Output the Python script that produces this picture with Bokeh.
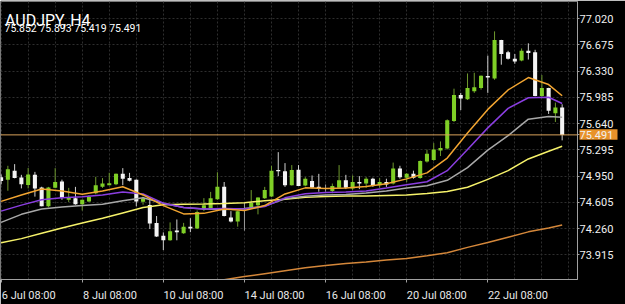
from bokeh.plotting import figure
from bokeh.models import ColumnDataSource, FixedTicker, Range1d, Span, Label, PrintfTickFormatter
from bokeh.embed import file_html
from bokeh.resources import INLINE

symbol_title = "AUDJPY, H4"
ohlc_title = "75.852 75.893 75.419 75.491"

opens = [74.936, 74.900, 75.021, 74.930, 74.832, 74.966, 74.800, 74.553, 74.795, 74.877,
         74.638, 74.660, 74.580, 74.617, 74.724, 74.810, 74.830, 74.843, 74.979, 74.923,
         74.903, 74.612, 74.570, 74.332, 74.165, 74.106, 74.235, 74.200, 74.285, 74.262,
         74.515, 74.532, 74.647, 74.808, 74.405, 74.353, 74.470, 74.540, 74.565, 74.660,
         74.680, 75.030, 75.012, 74.830, 75.034, 74.826, 74.885, 74.808, 74.790, 74.753,
         74.795, 74.894, 74.788, 74.872, 74.852, 74.915, 74.830, 74.872, 74.852, 75.051,
         74.928, 74.979, 74.923, 75.140, 75.162, 75.286, 75.311, 75.673, 76.014, 75.958,
         76.065, 76.107, 76.264, 76.231, 76.737, 76.576, 76.490, 76.468, 76.596, 76.576,
         76.001, 76.107, 75.775, 75.852]
highs = [74.970, 75.085, 75.107, 74.966, 75.056, 75.005, 74.810, 74.808, 75.054, 74.903,
         74.795, 74.808, 74.640, 74.700, 74.940, 74.923, 74.993, 74.983, 75.054, 74.992,
         74.905, 74.680, 74.638, 74.425, 74.210, 74.341, 74.380, 74.335, 74.396, 74.498,
         74.660, 74.742, 75.000, 74.872, 74.489, 74.495, 74.596, 74.766, 74.670, 74.808,
         75.085, 75.264, 75.120, 75.094, 75.094, 74.936, 74.958, 74.979, 74.839, 74.852,
         75.094, 74.966, 74.958, 74.949, 74.936, 74.928, 74.923, 74.915, 75.127, 75.085,
         74.990, 75.021, 75.155, 75.298, 75.383, 75.405, 75.695, 76.098, 76.043, 76.298,
         76.307, 76.272, 76.532, 76.851, 76.740, 76.596, 76.554, 76.627, 76.694, 76.609,
         76.277, 76.110, 75.915, 75.893]
lows = [74.840, 74.757, 74.920, 74.788, 74.788, 74.680, 74.553, 74.540, 74.790, 74.638,
        74.609, 74.574, 74.498, 74.610, 74.711, 74.795, 74.830, 74.830, 74.830, 74.880,
        74.553, 74.574, 74.255, 74.150, 73.978, 74.100, 74.106, 74.190, 74.213, 74.255,
        74.490, 74.525, 74.638, 74.420, 74.341, 74.285, 74.233, 74.532, 74.447, 74.650,
        74.675, 74.949, 74.808, 74.825, 74.820, 74.815, 74.788, 74.744, 74.744, 74.724,
        74.788, 74.779, 74.766, 74.779, 74.795, 74.808, 74.795, 74.808, 74.839, 74.915,
        74.872, 74.915, 74.915, 75.127, 75.149, 75.213, 75.300, 75.660, 75.817, 75.950,
        76.043, 76.085, 76.043, 76.215, 76.413, 76.481, 76.426, 76.458, 76.481, 75.998,
        75.990, 75.766, 75.660, 75.419]
closes = [74.885, 75.040, 74.923, 74.843, 74.970, 74.788, 74.553, 74.800, 74.872, 74.664,
          74.668, 74.580, 74.638, 74.675, 74.830, 74.852, 74.855, 74.979, 74.915, 74.890,
          74.617, 74.654, 74.326, 74.157, 74.106, 74.224, 74.213, 74.285, 74.262, 74.479,
          74.567, 74.660, 74.808, 74.425, 74.353, 74.489, 74.470, 74.596, 74.668, 74.766,
          75.021, 75.012, 74.830, 75.030, 74.821, 74.915, 74.800, 74.779, 74.790, 74.821,
          74.894, 74.795, 74.872, 74.852, 74.915, 74.821, 74.872, 74.839, 75.051, 74.936,
          74.979, 74.928, 75.149, 75.242, 75.298, 75.319, 75.682, 76.014, 75.970, 76.107,
          76.116, 76.269, 76.244, 76.739, 76.554, 76.490, 76.456, 76.596, 76.567, 76.001,
          76.107, 75.809, 75.852, 75.491]
bars = list(range(len(opens)))

tick_bars = [0, 12, 24, 36, 48, 60, 72]
tick_labels = ["6 Jul 08:00", "8 Jul 08:00", "10 Jul 08:00", "14 Jul 08:00",
               "16 Jul 08:00", "20 Jul 08:00", "22 Jul 08:00"]
price_ticks = [73.915, 74.260, 74.605, 74.950, 75.295, 75.640, 75.985, 76.330, 76.675, 77.020]
last_price = 75.491

ma_bars = [0, 3, 6, 9, 12, 15, 18, 21, 24, 27, 30, 33, 36, 39, 42, 45, 48, 51, 54, 57,
           60, 63, 66, 69, 72, 75, 78, 81, 83]
ma_orange = [74.617, 74.702, 74.779, 74.753, 74.711, 74.753, 74.810, 74.702, 74.562, 74.453,
             74.460, 74.517, 74.498, 74.562, 74.715, 74.795, 74.788, 74.792, 74.813, 74.849,
             74.913, 74.992, 75.187, 75.515, 75.826, 76.081, 76.244, 76.152, 76.005]
ma_purple = [74.489, 74.568, 74.638, 74.664, 74.677, 74.702, 74.740, 74.715, 74.594, 74.536,
             74.517, 74.523, 74.517, 74.549, 74.664, 74.719, 74.734, 74.740, 74.753, 74.792,
             74.836, 74.875, 75.021, 75.298, 75.583, 75.839, 75.979, 75.986, 75.903]
ma_gray = [74.341, 74.447, 74.517, 74.543, 74.562, 74.581, 74.626, 74.664, 74.594, 74.536,
           74.517, 74.511, 74.523, 74.555, 74.651, 74.686, 74.702, 74.709, 74.728, 74.753,
           74.792, 74.824, 74.894, 75.060, 75.290, 75.481, 75.698, 75.733, 75.724]
ma_yellow = [74.073, 74.128, 74.198, 74.268, 74.332, 74.396, 74.466, 74.536, 74.574, 74.581,
             74.583, 74.590, 74.600, 74.625, 74.645, 74.670, 74.683, 74.689, 74.689, 74.696,
             74.702, 74.721, 74.747, 74.804, 74.907, 75.021, 75.175, 75.277, 75.341]
ma_brown_bars = [30, 33, 36, 39, 42, 45, 48, 51, 54, 57, 60, 63, 66, 69, 72, 75, 78, 81, 83]
ma_brown = [73.540, 73.588, 73.630, 73.668, 73.706, 73.745, 73.776, 73.802, 73.821, 73.847,
            73.868, 73.904, 73.942, 74.013, 74.076, 74.147, 74.217, 74.268, 74.306]

# ---------------- styling ----------------
FONT = "Roboto"
BULL, BEAR, DOJI = "#7fcf26", "#f4f4f4", "#9a9a9a"
BULL_WICK, BEAR_WICK = "#6f9a2e", "#d0d0d0"
X0, X1 = -0.09, 85.27
Y0, Y1 = 73.591, 77.2435
BAR_PX = 577 / (X1 - X0)
PRICE_PX = 286 / (Y1 - Y0)

body_col, wick_col, tops, bots = [], [], [], []
for o, c in zip(opens, closes):
    if c > o:
        body_col.append(BULL); wick_col.append(BULL_WICK)
    elif c < o:
        body_col.append(BEAR); wick_col.append(BEAR_WICK)
    else:
        body_col.append(DOJI); wick_col.append(DOJI)
    tops.append(max(o, c)); bots.append(min(o, c))

src = ColumnDataSource(dict(x=bars, o=opens, h=highs, l=lows, c=closes,
                            top=tops, bottom=bots, body=body_col, wick=wick_col))

p = figure(width=625, height=304, output_backend="svg", toolbar_location=None,
           x_range=Range1d(X0, X1), y_range=Range1d(Y0, Y1),
           y_axis_location="right",
           min_border_left=0, min_border_right=48, min_border_top=1, min_border_bottom=17,
           background_fill_color="black", border_fill_color="black",
           outline_line_color="#7a7a7a")

# grid
p.xgrid.ticker = FixedTicker(ticks=list(range(0, 86, 4)))
p.ygrid.ticker = FixedTicker(ticks=price_ticks)
for g in (p.xgrid, p.ygrid):
    g.grid_line_color = "#2e2e2e"
    g.grid_line_dash = "2 2"
    g.grid_line_width = 1

# y axis (right) with common styling
p.yaxis.formatter = PrintfTickFormatter(format="%.3f")
p.yaxis.axis_line_color = "#a0a0a0"
p.yaxis.major_tick_line_color = "#a0a0a0"
p.yaxis.major_tick_out = 2
p.yaxis.major_tick_in = 0
p.yaxis.major_label_text_color = "#f0f0f0"
p.yaxis.major_label_text_font = FONT
p.yaxis.major_label_text_font_size = "11px"

# last-price tag: the axis label at last_price sits on one wide orange minor tick.
# A negative standoff cancels the long minor tick so labels stay next to the axis.
tag_ok = True
try:
    p.yaxis.major_label_standoff = -38
except ValueError:
    tag_ok = False
if tag_ok:
    p.yaxis.ticker = FixedTicker(ticks=price_ticks + [last_price], minor_ticks=[last_price])
    p.yaxis.minor_tick_line_color = "#e8922a"
    p.yaxis.minor_tick_line_width = 10.5
    p.yaxis.minor_tick_line_cap = "butt"
    p.yaxis.minor_tick_out = 40
    p.yaxis.minor_tick_in = -2
else:
    p.yaxis.ticker = FixedTicker(ticks=price_ticks + [last_price])
    p.yaxis.major_label_standoff = 1
    p.yaxis.minor_tick_line_color = None

# x axis: labels start at the tick (left aligned) -> shift label centres
centres = []
overrides = {}
for b, lab in zip(tick_bars, tick_labels):
    cx = b + (1 + 4.85 * len(lab) / 2) / BAR_PX
    centres.append(cx)
    overrides[cx] = lab
p.xaxis.ticker = FixedTicker(ticks=centres, minor_ticks=tick_bars)
p.xaxis.major_label_overrides = overrides
p.xaxis.axis_line_color = "#a0a0a0"
p.xaxis.major_tick_line_color = None
p.xaxis.minor_tick_line_color = "#a0a0a0"
p.xaxis.minor_tick_out = 3
p.xaxis.minor_tick_in = 0
p.xaxis.major_label_standoff = 3
p.xaxis.major_label_text_color = "#e8e8e8"
p.xaxis.major_label_text_font = FONT
p.xaxis.major_label_text_font_size = "11px"

# candles
p.segment(x0="x", y0="l", x1="x", y1="h", color="wick", line_width=1, source=src)
p.vbar(x="x", width=0.6, top="top", bottom="bottom", fill_color="body",
       line_color=None, source=src)

# moving averages
p.line(ma_brown_bars, ma_brown, line_color="#d4873a", line_width=1.5)
p.line(ma_bars, ma_yellow, line_color="#f6f26a", line_width=1.5)
p.line(ma_bars, ma_gray, line_color="#a8a8a8", line_width=1.5)
p.line(ma_bars, ma_purple, line_color="#8a3ee0", line_width=1.5)
p.line(ma_bars, ma_orange, line_color="#f2a531", line_width=1.5)

# last price line
p.add_layout(Span(location=last_price, dimension="width", line_color="#d9a25a", line_width=1))

# title texts (placed in data space: pixel offsets from the frame's top-left corner)
p.add_layout(Label(x=X0 + 4.5 / BAR_PX, y=Y1 - 19.7 / PRICE_PX, text=symbol_title,
                   text_color="white", text_font=FONT, text_font_size="16px",
                   text_baseline="alphabetic"))
p.add_layout(Label(x=X0 + 4.0 / BAR_PX, y=Y1 - 28.0 / PRICE_PX, text=ohlc_title,
                   text_color="white", text_font=FONT, text_font_size="10.5px",
                   text_baseline="alphabetic"))

open("out.html", "w").write(file_html(p, INLINE))
